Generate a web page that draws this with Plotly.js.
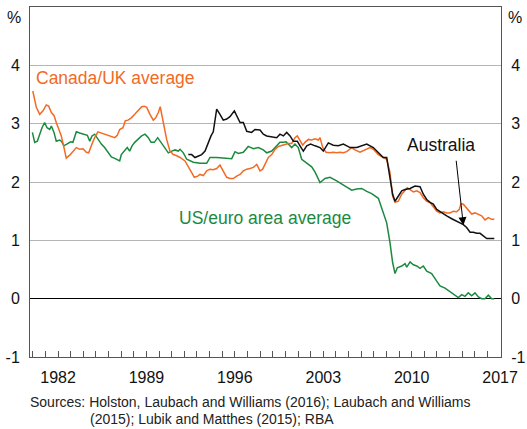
<!DOCTYPE html>
<html>
<head>
<meta charset="utf-8">
<script src="https://cdn.plot.ly/plotly-3.0.1.min.js"></script>
<style>html,body{margin:0;padding:0;background:#fff}#chart{width:527px;height:429px}</style>
</head>
<body>
<div id="chart"></div>
<script>
// Canada/UK average (orange)
const canUkYears = [1980.00,1980.28,1980.55,1980.81,1981.07,1981.26,1981.47,1981.68,1981.86,1982.05,1982.26,1982.47,1982.65,1982.92,1983.18,1983.45,1983.71,1983.98,1984.24,1984.43,1984.63,1984.90,1985.16,1985.43,1985.69,1985.96,1986.22,1986.49,1986.69,1986.88,1987.14,1987.33,1987.54,1987.80,1988.07,1988.33,1988.62,1988.83,1989.02,1989.28,1989.54,1989.73,1989.94,1990.09,1990.33,1990.60,1990.86,1991.13,1991.40,1991.66,1992.05,1992.31,1992.58,1992.79,1993.06,1993.24,1993.50,1993.77,1994.03,1994.29,1994.56,1994.82,1995.08,1995.35,1995.61,1995.88,1996.14,1996.41,1996.67,1996.94,1997.20,1997.46,1997.73,1997.99,1998.20,1998.39,1998.65,1998.92,1999.18,1999.44,1999.71,1999.97,2000.23,2000.50,2000.76,2000.94,2001.16,2001.37,2001.55,2001.82,2002.08,2002.35,2002.61,2002.74,2002.96,2003.22,2003.53,2003.79,2004.06,2004.32,2004.59,2004.85,2005.25,2005.51,2005.91,2006.30,2006.70,2006.96,2007.36,2007.75,2008.02,2008.28,2008.49,2008.68,2008.94,2009.21,2009.47,2009.65,2009.87,2010.13,2010.40,2010.66,2010.92,2011.19,2011.45,2011.71,2011.98,2012.24,2012.50,2012.77,2013.03,2013.30,2013.56,2013.77,2013.90,2014.09,2014.35,2014.56,2014.75,2015.01,2015.28,2015.54,2015.80,2016.07,2016.33,2016.54];
const canUkValues = [3.56,3.28,3.16,3.22,3.32,3.30,3.19,3.14,3.02,2.90,2.79,2.59,2.41,2.46,2.53,2.59,2.56,2.57,2.51,2.50,2.62,2.76,2.86,2.84,2.82,2.79,2.78,2.76,2.80,2.90,2.93,3.05,3.06,3.10,3.16,3.22,3.29,3.30,3.28,3.16,3.06,3.10,3.19,3.29,3.02,2.73,2.53,2.47,2.45,2.42,2.36,2.25,2.16,2.08,2.10,2.13,2.11,2.19,2.22,2.21,2.23,2.29,2.19,2.08,2.06,2.06,2.10,2.13,2.19,2.22,2.23,2.25,2.30,2.19,2.22,2.30,2.42,2.47,2.56,2.61,2.63,2.65,2.66,2.66,2.76,2.79,2.70,2.63,2.68,2.73,2.72,2.74,2.72,2.76,2.59,2.51,2.50,2.51,2.50,2.51,2.50,2.52,2.59,2.55,2.51,2.55,2.59,2.56,2.47,2.42,2.39,2.16,1.76,1.65,1.67,1.79,1.85,1.90,1.87,1.83,1.85,1.82,1.73,1.67,1.65,1.58,1.50,1.47,1.49,1.47,1.47,1.50,1.49,1.53,1.63,1.62,1.56,1.50,1.45,1.47,1.45,1.42,1.35,1.39,1.36,1.36];

// Australia (black)
const ausYears = [1992.31,1992.58,1992.84,1993.11,1993.37,1993.64,1993.85,1994.11,1994.29,1994.43,1994.56,1994.82,1995.08,1995.35,1995.61,1995.96,1996.14,1996.41,1996.67,1996.94,1997.33,1997.59,1997.99,1998.25,1998.52,1998.92,1999.31,1999.57,1999.84,2000.10,2000.37,2000.63,2000.94,2001.16,2001.42,2001.69,2002.00,2002.35,2002.74,2003.00,2003.40,2003.79,2004.19,2004.59,2005.12,2005.65,2006.04,2006.44,2006.96,2007.36,2007.75,2008.02,2008.28,2008.49,2008.68,2008.94,2009.21,2009.47,2009.87,2010.26,2010.66,2010.92,2011.19,2011.45,2011.71,2011.98,2012.38,2012.77,2013.17,2013.56,2013.83,2014.09,2014.35,2014.62,2014.88,2015.15,2015.41,2015.67,2015.94,2016.20,2016.54];
const ausValues = [2.47,2.47,2.42,2.45,2.47,2.53,2.65,2.79,2.86,3.05,3.25,3.16,3.06,3.08,3.12,3.22,3.13,3.02,3.02,2.87,2.85,2.90,2.89,2.82,2.79,2.77,2.76,2.82,2.79,2.85,2.79,2.70,2.70,2.62,2.53,2.62,2.65,2.62,2.59,2.53,2.67,2.63,2.62,2.65,2.59,2.59,2.62,2.65,2.59,2.50,2.42,2.42,2.08,1.79,1.67,1.76,1.85,1.87,1.89,1.93,1.92,1.79,1.70,1.65,1.62,1.53,1.47,1.42,1.37,1.33,1.31,1.27,1.22,1.14,1.14,1.12,1.12,1.07,1.03,1.03,1.03];

// US/euro area average (green)
const usEuroYears = [1979.97,1980.15,1980.36,1980.55,1980.73,1980.94,1981.13,1981.34,1981.47,1981.68,1981.86,1982.13,1982.26,1982.47,1982.73,1983.00,1983.18,1983.45,1983.71,1983.98,1984.32,1984.51,1984.69,1984.90,1985.16,1985.43,1985.69,1985.96,1986.22,1986.53,1986.88,1987.01,1987.28,1987.48,1987.67,1987.86,1988.07,1988.35,1988.62,1988.89,1989.15,1989.36,1989.62,1989.89,1990.15,1990.41,1990.73,1991.00,1991.26,1991.52,1991.66,1991.92,1992.19,1992.71,1993.24,1993.77,1994.03,1994.56,1995.08,1995.75,1996.01,1996.27,1996.67,1997.06,1997.46,1997.86,1998.25,1998.52,1998.92,1999.18,1999.57,1999.84,2000.05,2000.23,2000.50,2000.76,2001.02,2001.29,2001.69,2002.08,2002.35,2002.74,2003.14,2003.53,2004.06,2004.46,2004.85,2005.25,2005.65,2006.04,2006.44,2006.83,2007.36,2007.62,2008.02,2008.28,2008.49,2008.68,2008.86,2009.21,2009.47,2009.61,2009.87,2010.13,2010.40,2010.66,2010.92,2011.19,2011.58,2011.98,2012.24,2012.64,2013.03,2013.43,2013.69,2013.96,2014.22,2014.48,2014.75,2015.01,2015.28,2015.54,2015.80,2016.07,2016.33,2016.54];
const usEuroValues = [2.85,2.68,2.70,2.82,2.93,3.02,2.93,2.90,2.96,2.85,2.70,2.72,2.70,2.62,2.65,2.69,2.68,2.86,2.84,2.82,2.80,2.70,2.79,2.82,2.73,2.65,2.59,2.50,2.43,2.40,2.36,2.47,2.53,2.59,2.53,2.62,2.68,2.73,2.79,2.82,2.76,2.68,2.68,2.76,2.68,2.62,2.50,2.53,2.55,2.53,2.56,2.50,2.39,2.34,2.32,2.32,2.42,2.42,2.41,2.40,2.52,2.49,2.51,2.61,2.57,2.59,2.55,2.50,2.53,2.59,2.68,2.68,2.69,2.65,2.59,2.65,2.59,2.39,2.33,2.26,2.17,1.99,2.06,2.08,2.02,1.97,1.91,1.86,1.88,1.89,1.84,1.80,1.72,1.56,1.30,0.96,0.62,0.43,0.53,0.56,0.60,0.54,0.63,0.58,0.56,0.52,0.56,0.47,0.43,0.30,0.22,0.18,0.12,0.07,0.02,0.07,0.04,0.10,0.05,0.10,0.03,0.00,0.00,0.06,0.00,0.00];

// Axis ticks and labels
const yearTicks = [];
for (let y = 1980; y <= 2017; y++) yearTicks.push(y);
const labelledYears = [1982, 1989, 1996, 2003, 2010, 2017];
const yearTickText = yearTicks.map(y => labelledYears.includes(y) ? String(y) : '');
const yTicks = [-1, 0, 1, 2, 3, 4];
const yTickText = ['-1', '0', '1', '2', '3', '4'];

const seriesNames = ['Canada/UK average', 'Australia', 'US/euro area average'];
const sourcesLine1 = 'Sources: Holston, Laubach and Williams (2016); Laubach and Williams';
const sourcesLine2 = '(2015); Lubik and Matthes (2015); RBA';

const ORANGE = '#f26a24';
const GREEN = '#1b8a3f';
const BLACK = '#111111';
const FONT = 'Liberation Sans, Arial, sans-serif';

const traces = [
  {x: usEuroYears, y: usEuroValues, type: 'scatter', mode: 'lines', name: seriesNames[2],
   line: {color: GREEN, width: 1.5}},
  {x: canUkYears, y: canUkValues, type: 'scatter', mode: 'lines', name: seriesNames[0],
   line: {color: ORANGE, width: 1.5}},
  {x: ausYears, y: ausValues, type: 'scatter', mode: 'lines', name: seriesNames[1],
   line: {color: BLACK, width: 1.5}},
  {x: [], y: [], yaxis: 'y2', type: 'scatter', mode: 'lines', showlegend: false, hoverinfo: 'skip'}
];

const yCommon = {
  range: [-1, 5], tickmode: 'array', tickvals: yTicks, ticktext: yTickText,
  ticks: '', showline: true, linecolor: '#555', linewidth: 1,
  tickfont: {family: FONT, size: 16, color: '#111'}, fixedrange: true
};

const layout = {
  width: 527, height: 429,
  margin: {l: 30, r: 26, t: 7, b: 72},
  paper_bgcolor: '#fff', plot_bgcolor: '#fff',
  showlegend: false,
  font: {family: FONT, color: '#111'},
  xaxis: {
    range: [1979.78, 2017.07], tickmode: 'array', tickvals: yearTicks, ticktext: yearTickText,
    ticks: 'inside', ticklen: 6, tickcolor: '#555', tickwidth: 1,
    showgrid: false, zeroline: false, showline: true, mirror: true, linecolor: '#555', linewidth: 1,
    tickfont: {family: FONT, size: 16, color: '#111'}, ticklabelstandoff: 6
  },
  yaxis: Object.assign({}, yCommon, {
    side: 'left', showgrid: true, gridcolor: '#b5b5b5', gridwidth: 1,
    zeroline: true, zerolinecolor: '#000', zerolinewidth: 1, ticklabelstandoff: 6
  }),
  yaxis2: Object.assign({}, yCommon, {
    side: 'right', overlaying: 'y', showgrid: false, zeroline: false, ticklabelstandoff: 6
  }),
  annotations: [
    {xref: 'paper', yref: 'paper', x: -0.034, y: 0.971, text: '%', showarrow: false,
     xanchor: 'center', yanchor: 'middle', font: {family: FONT, size: 16, color: '#111'}},
    {xref: 'paper', yref: 'paper', x: 1.030, y: 0.971, text: '%', showarrow: false,
     xanchor: 'center', yanchor: 'middle', font: {family: FONT, size: 16, color: '#111'}},
    {xref: 'x', yref: 'y', x: 1980.1, y: 3.78, text: seriesNames[0], showarrow: false,
     xanchor: 'left', yanchor: 'middle', font: {family: FONT, size: 17.5, color: ORANGE}},
    {xref: 'x', yref: 'y', x: 1991.4, y: 1.38, text: seriesNames[2], showarrow: false,
     xanchor: 'left', yanchor: 'middle', font: {family: FONT, size: 17.5, color: GREEN}},
    {xref: 'x', yref: 'y', x: 2009.5, y: 2.63, text: seriesNames[1], showarrow: false,
     xanchor: 'left', yanchor: 'middle', font: {family: FONT, size: 17.5, color: BLACK}},
    {xref: 'x', yref: 'y', x: 2014.09, y: 1.26, axref: 'x', ayref: 'y', ax: 2013.51, ay: 2.39,
     text: '', showarrow: true, arrowhead: 2, arrowsize: 1.6, arrowwidth: 1, arrowcolor: '#000'},
    {xref: 'paper', yref: 'paper', x: -0.004, y: -0.129, text: sourcesLine1, showarrow: false,
     xanchor: 'left', yanchor: 'middle', font: {family: FONT, size: 14, color: '#222'}},
    {xref: 'paper', yref: 'paper', x: 0.123, y: -0.177, text: sourcesLine2, showarrow: false,
     xanchor: 'left', yanchor: 'middle', font: {family: FONT, size: 14, color: '#222'}}
  ]
};

Plotly.newPlot('chart', traces, layout, {staticPlot: true, displayModeBar: false});
</script>
</body>
</html>
